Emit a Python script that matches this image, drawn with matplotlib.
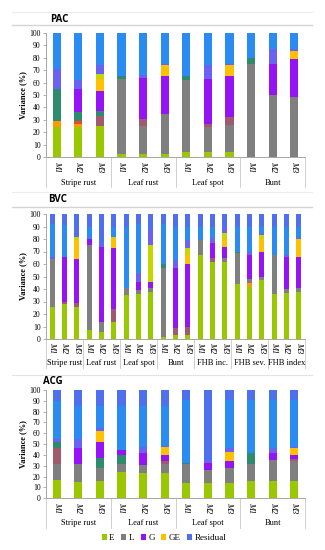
import numpy as np
import matplotlib.pyplot as plt
from matplotlib.patches import Patch
from matplotlib.lines import Line2D
from matplotlib.transforms import blended_transform_factory

W, H = 325, 550

# colours of the variance components (stacking order, bottom to top)
parts = ['E', 'O', 'R', 'L', 'GL', 'T', 'G', 'GE', 'Y', 'S', 'B', 'Res']
colors = {'E': '#99c800', 'O': '#ff9a00', 'R': '#e8473b', 'L': '#7f7f7f',
          'GL': '#a05a6e', 'T': '#2e8b6e', 'G': '#9414f5', 'GE': '#ffc000',
          'Y': '#c8d600', 'S': '#6a62f2', 'B': '#2a8cf2', 'Res': '#4f70ee'}

models = ['M1', 'M2', 'M3']

# ---- PAC ----
pac_groups = ['Stripe rust', 'Leaf rust', 'Leaf spot', 'Bunt']
pac_E = [24, 24, 25, 3, 3, 3, 4, 4, 4, 0, 0, 0]
pac_O = [5, 3, 0, 0, 0, 0, 0, 0, 0, 0, 0, 0]
pac_R = [0, 2, 0, 0, 0, 0, 0, 0, 0, 0, 0, 0]
pac_L = [0, 0, 0, 60, 22, 32, 58, 20, 22, 75, 50, 48]
pac_GL = [0, 0, 8, 0, 6, 0, 0, 3, 6, 0, 0, 0]
pac_T = [26, 7, 4, 2, 0, 0, 3, 0, 0, 5, 0, 0]
pac_G = [0, 19, 16, 0, 33, 30, 0, 36, 33, 0, 25, 31]
pac_GE = [0, 0, 10, 0, 0, 9, 0, 0, 9, 0, 0, 6]
pac_Y = [0, 0, 4, 0, 0, 0, 0, 0, 0, 0, 0, 0]
pac_S = [16, 7, 7, 0, 2, 1, 0, 11, 1, 0, 12, 2]
pac_B = [29, 38, 26, 35, 34, 25, 35, 26, 25, 20, 13, 13]
pac_Res = [0, 0, 0, 0, 0, 0, 0, 0, 0, 0, 0, 0]

# ---- BVC ----
bvc_groups = ['Stripe rust', 'Leaf rust', 'Leaf spot', 'Bunt',
              'FHB inc.', 'FHB sev.', 'FHB index']
bvc_E = [26, 28, 26, 7, 6, 14, 35, 36, 38, 2, 3, 3, 67, 62, 62, 44, 42, 47, 36, 37, 38]
bvc_O = [0, 0, 0, 0, 0, 0, 0, 0, 0, 0, 0, 0, 0, 0, 0, 0, 3, 0, 0, 0, 0]
bvc_R = [0, 0, 0, 0, 0, 0, 0, 0, 0, 0, 0, 0, 0, 0, 0, 0, 0, 0, 0, 0, 0]
bvc_L = [38, 0, 0, 68, 8, 0, 6, 3, 3, 55, 0, 0, 12, 0, 3, 25, 3, 3, 31, 3, 3]
bvc_GL = [0, 2, 3, 0, 0, 10, 0, 0, 0, 0, 6, 7, 0, 3, 0, 0, 0, 0, 0, 0, 0]
bvc_T = [0, 0, 0, 0, 0, 0, 0, 0, 0, 3, 0, 0, 0, 0, 0, 1, 0, 0, 0, 0, 0]
bvc_G = [0, 36, 35, 5, 60, 49, 0, 7, 5, 0, 48, 50, 0, 12, 9, 0, 19, 20, 0, 26, 25]
bvc_GE = [0, 0, 15, 0, 0, 8, 0, 0, 0, 0, 0, 7, 0, 0, 6, 0, 0, 10, 0, 0, 14]
bvc_Y = [0, 0, 3, 0, 0, 1, 0, 0, 29, 0, 0, 6, 0, 0, 5, 0, 0, 3, 0, 0, 0]
bvc_S = [2, 0, 1, 0, 2, 0, 0, 7, 12, 0, 6, 6, 0, 4, 4, 0, 3, 2, 0, 1, 1]
bvc_B = [26, 25, 0, 10, 0, 8, 49, 39, 0, 32, 27, 11, 11, 9, 0, 20, 20, 5, 23, 23, 9]
bvc_Res = [8, 9, 17, 10, 24, 10, 10, 8, 13, 8, 10, 10, 10, 10, 11, 10, 10, 10, 10, 10, 10]

# ---- ACG ----
acg_groups = ['Stripe rust', 'Leaf rust', 'Leaf spot', 'Bunt']
acg_E = [17, 15, 16, 24, 23, 23, 14, 14, 14, 16, 16, 16]
acg_O = [0, 0, 0, 0, 0, 0, 0, 0, 0, 0, 0, 0]
acg_R = [0, 0, 0, 0, 0, 0, 0, 0, 0, 0, 0, 0]
acg_L = [15, 17, 12, 8, 8, 9, 18, 12, 14, 16, 19, 18]
acg_GL = [14, 0, 0, 0, 0, 2, 0, 0, 0, 0, 0, 2]
acg_T = [6, 0, 9, 8, 0, 0, 1, 0, 0, 10, 0, 0]
acg_G = [0, 14, 15, 5, 11, 6, 0, 7, 6, 0, 7, 4]
acg_GE = [0, 0, 10, 0, 0, 7, 0, 0, 9, 0, 0, 6]
acg_Y = [0, 0, 0, 0, 0, 0, 0, 0, 0, 0, 0, 0]
acg_S = [3, 9, 3, 0, 5, 1, 0, 2, 3, 0, 4, 1]
acg_B = [35, 30, 20, 40, 38, 37, 58, 0, 45, 49, 45, 44]
acg_Res = [10, 15, 15, 15, 15, 15, 9, 65, 9, 9, 9, 9]

legend_names = ['E', 'L', 'G', 'GE', 'Residual']
legend_keys = ['E', 'L', 'G', 'GE', 'Res']

SERIF = 'Liberation Serif'
AXC = '#a6a6a6'

fig = plt.figure(figsize=(W / 100, H / 100), dpi=100)


def hline(y, x0=12, x1=312, color='#d4d4d4', lw=1.0):
    fig.add_artist(Line2D([x0 / W, x1 / W], [1 - y / H, 1 - y / H],
                          color=color, lw=lw))


def draw_panel(title, title_xy, top, bot, groups, data, mlab_gap, glab_y, sep_y):
    h = bot - top
    ax = fig.add_axes([46 / W, 1 - bot / H, 259 / W, h / H])
    n = len(groups) * 3
    x = np.arange(n)
    base = np.zeros(n)
    for k in parts:
        v = np.array(data[k], dtype=float)
        ax.bar(x, v, 0.38, bottom=base, color=colors[k], linewidth=0)
        base += v
    ax.set_xlim(-0.5, n - 0.5)
    ax.set_ylim(0, 100)
    ax.set_yticks(range(0, 101, 10))
    for s in ['top', 'right']:
        ax.spines[s].set_visible(False)
    for s in ['left', 'bottom']:
        ax.spines[s].set_color(AXC)
        ax.spines[s].set_linewidth(0.7)
    ax.tick_params(axis='y', length=2.5, width=0.6, color=AXC, pad=1.5,
                   labelsize=5.5)
    for t in ax.get_yticklabels():
        t.set_fontfamily(SERIF)
    ax.set_xticks(x)
    ax.set_xticklabels(models * len(groups), rotation=270, fontsize=6,
                       fontfamily=SERIF, fontstyle='italic')
    ax.tick_params(axis='x', length=0, pad=mlab_gap)
    tr = blended_transform_factory(ax.transData, ax.transAxes)
    for i, g in enumerate(groups):
        ax.text(3 * i + 1, -(glab_y - bot) / h, g, transform=tr, ha='center',
                va='center', fontsize=6, fontfamily=SERIF)
    for i in range(len(groups) + 1):
        xb = 3 * i - 0.5
        ax.plot([xb, xb], [0, -(sep_y - bot) / h], transform=tr, clip_on=False,
                color='#c8c8c8', lw=0.6)
    fig.text(23 / W, 1 - (top + bot) / 2 / H, 'Variance (%)', rotation=90,
             ha='center', va='center', fontsize=6, fontweight='bold',
             fontfamily=SERIF)
    fig.text(title_xy[0] / W, 1 - title_xy[1] / H, title, ha='left',
             va='center', fontsize=7, fontweight='bold', fontfamily='Open Sans')
    return ax


pac = {'E': pac_E, 'O': pac_O, 'R': pac_R, 'L': pac_L, 'GL': pac_GL,
       'T': pac_T, 'G': pac_G, 'GE': pac_GE, 'Y': pac_Y, 'S': pac_S,
       'B': pac_B, 'Res': pac_Res}
bvc = {'E': bvc_E, 'O': bvc_O, 'R': bvc_R, 'L': bvc_L, 'GL': bvc_GL,
       'T': bvc_T, 'G': bvc_G, 'GE': bvc_GE, 'Y': bvc_Y, 'S': bvc_S,
       'B': bvc_B, 'Res': bvc_Res}
acg = {'E': acg_E, 'O': acg_O, 'R': acg_R, 'L': acg_L, 'GL': acg_GL,
       'T': acg_T, 'G': acg_G, 'GE': acg_GE, 'Y': acg_Y, 'S': acg_S,
       'B': acg_B, 'Res': acg_Res}

hline(12, color='#ececec', lw=0.8)
hline(25)
draw_panel('PAC', (50, 19), 32.7, 157.3, pac_groups, pac, 2.5, 183, 187)

hline(192, color='#ececec', lw=0.8)
hline(207)
draw_panel('BVC', (48, 200), 214, 339, bvc_groups, bvc, 2.5, 363, 368)

hline(375, color='#e4e4e4', lw=0.8)
draw_panel('ACG', (43, 382), 390, 498.3, acg_groups, acg, 2.5, 523, 528)

handles = [Patch(facecolor=colors[k], edgecolor='none') for k in legend_keys]
fig.legend(handles, legend_names, loc='center', ncol=5,
           bbox_to_anchor=(164 / W, 1 - 538 / H), frameon=False,
           handlelength=0.55, handleheight=0.55, handletextpad=0.3,
           columnspacing=0.7, prop={'family': SERIF, 'size': 6.5})

fig.savefig('out.png', dpi=100)
